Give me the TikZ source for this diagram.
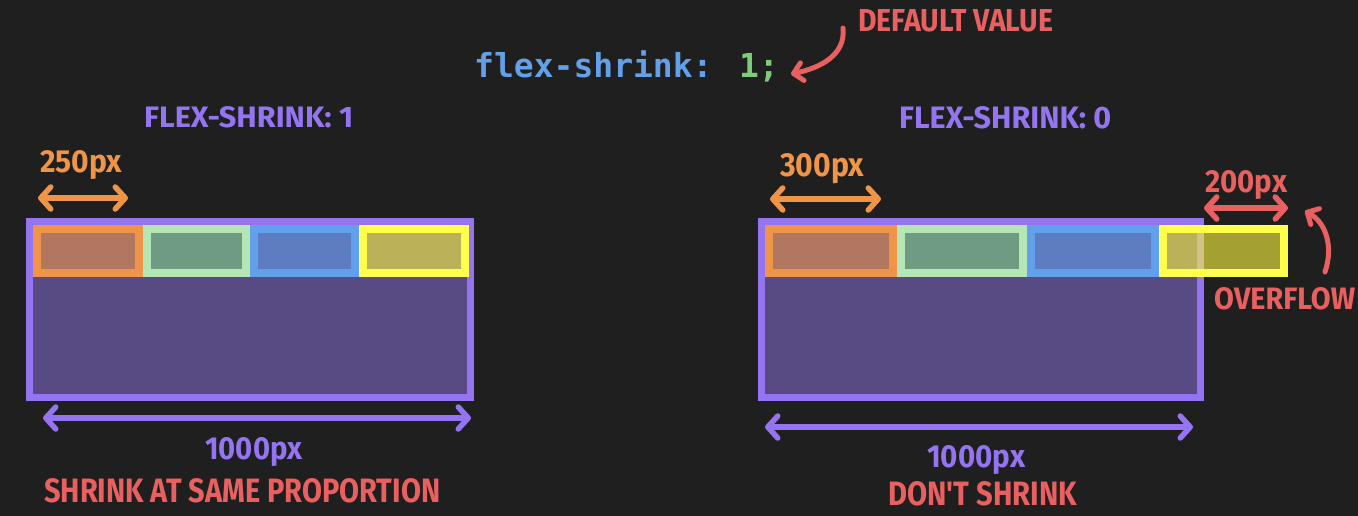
\documentclass[tikz,border=0pt]{standalone}
\usepackage{fontspec}
\usepackage{graphicx}
\usetikzlibrary{arrows.meta}

\newfontfamily\handfont{Fira Sans}
\newfontfamily\codefont{DejaVu Sans Mono}

\definecolor{bg}{HTML}{1F1F1F}
\definecolor{lav}{HTML}{9474F0}
\definecolor{boxfill}{HTML}{584A82}
\definecolor{coral}{HTML}{E8605F}
\definecolor{peach}{HTML}{EF954A}
\definecolor{mint}{HTML}{B5E6B5}
\definecolor{mintfill}{HTML}{7FD185}
\definecolor{sky}{HTML}{62A0EB}
\definecolor{lemon}{HTML}{FFFF4D}
\definecolor{lemonfill}{HTML}{FEF63F}
\definecolor{codeblue}{HTML}{62A0E8}
\definecolor{codegreen}{HTML}{7DCC7A}

% hand-lettered label set to a given width and cap height
\newcommand\lbl[3]{\resizebox{#1pt}{#2pt}{\handfont\bfseries #3}}

\tikzset{
  label text/.style={inner sep=0pt, anchor=base west},
  container/.style={draw=lav, line width=7pt, fill=boxfill},
  flexitem/.style={line width=8pt, fill opacity=0.6},
  dim/.style={line width=5.5pt, line cap=round,
    {Straight Barb[length=10pt, width=22pt, round]}-{Straight Barb[length=10pt, width=22pt, round]}},
  pointer/.style={line width=5pt, line cap=round, color=coral,
    -{Straight Barb[length=9pt, width=18pt, round]}},
}

\begin{document}
\begin{tikzpicture}[x=1pt, y=-1pt]
  \useasboundingbox[fill=bg] (0,0) rectangle (1358,516);

  % the declaration and its note
  \node[label text] (decl) at (474,78)
    {\codefont\bfseries\fontsize{33}{33}\selectfont
     \textcolor{codeblue}{flex-shrink:} \textcolor{codegreen}{1;}};
  \node[label text, text=coral] (defnote) at (858,32) {\lbl{195}{22}{DEFAULT VALUE}};
  \coordinate (defstart) at (843,28);
  \coordinate (defend) at (791,74);
  \draw[pointer] (defstart) .. controls (846,55) and (820,68) .. (defend);

  % ---------- flex-shrink: 1 ----------
  \node[label text, text=lav] (titleA) at (144,128) {\lbl{209}{21}{FLEX-SHRINK: 1}};
  \draw[container] (29.5,221.5) rectangle (470.5,397.5);
  \draw[flexitem, draw=peach, fill=peach] (37,229) rectangle (139,273);
  \draw[flexitem, draw=mint, fill=mintfill] (147,229) rectangle (246,273);
  \draw[flexitem, draw=sky, fill=sky] (254,229) rectangle (355,273);
  \draw[flexitem, draw=lemon, fill=lemonfill] (363,229) rectangle (465,273);

  \coordinate (a250l) at (38,198);
  \coordinate (a250r) at (128,198);
  \draw[dim, peach] (a250l) -- (a250r);
  \node[label text, text=peach] (w250) at (40,172) {\lbl{82}{22}{250px}};

  \coordinate (a1000l) at (43,418);
  \coordinate (a1000r) at (471,418);
  \draw[dim, lav] (a1000l) -- (a1000r);
  \node[label text, text=lav] (wA) at (205,459) {\lbl{97}{22}{1000px}};
  \node[label text, text=coral] (noteA) at (44,502) {\lbl{396}{24}{SHRINK AT SAME PROPORTION}};

  % ---------- flex-shrink: 0 ----------
  \node[label text, text=lav] (titleB) at (899,129) {\lbl{212}{22}{FLEX-SHRINK: 0}};
  \draw[container] (761.5,221.5) rectangle (1200.5,397.5);
  \draw[flexitem, draw=peach, fill=peach] (769,229) rectangle (893,273);
  \draw[flexitem, draw=mint, fill=mintfill] (901,229) rectangle (1023,273);
  \draw[flexitem, draw=sky, fill=sky] (1031,229) rectangle (1155,273);
  \draw[flexitem, draw=lemon, fill=lemonfill] (1163,229) rectangle (1284,273);

  \coordinate (a300l) at (770,199);
  \coordinate (a300r) at (881,199);
  \draw[dim, peach] (a300l) -- (a300r);
  \node[label text, text=peach] (w300) at (780,176) {\lbl{84}{23}{300px}};

  \coordinate (a200l) at (1204,208);
  \coordinate (a200r) at (1288,208);
  \draw[dim, coral] (a200l) -- (a200r);
  \node[label text, text=coral] (w200) at (1205,192) {\lbl{82}{22}{200px}};

  \coordinate (ovstart) at (1325,272);
  \coordinate (ovend) at (1305,211);
  \draw[pointer] (ovstart) .. controls (1334,245) and (1325,222) .. (ovend);
  \node[label text, text=coral] (overflow) at (1214,309) {\lbl{141}{22}{OVERFLOW}};

  \coordinate (b1000l) at (765,427);
  \coordinate (b1000r) at (1193,427);
  \draw[dim, lav] (b1000l) -- (b1000r);
  \node[label text, text=lav] (wB) at (927,467) {\lbl{98}{22}{1000px}};
  \node[label text, text=coral] (noteB) at (888,505) {\lbl{189}{24}{DON'T SHRINK}};
\end{tikzpicture}
\end{document}
